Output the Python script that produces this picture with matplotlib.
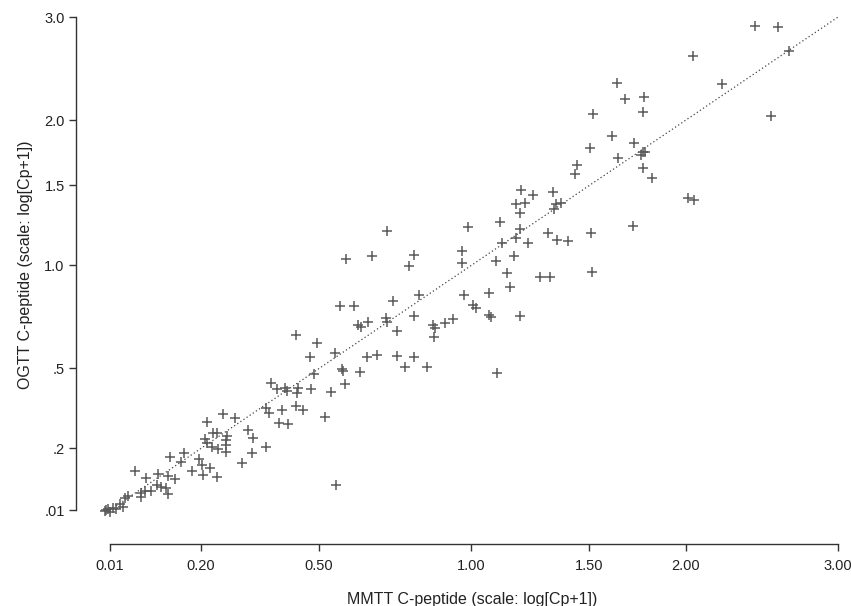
import numpy as np
import matplotlib.pyplot as plt

plt.rcParams['font.family'] = ['Liberation Sans', 'DejaVu Sans']

# both tests on the plotted scale: log(Cp+1)
mmtt = [0.002, 0.010, 0.000, 0.016, 0.029, 0.035, 0.038, 0.044, 0.069, 0.069,
        0.076, 0.088, 0.099, 0.106, 0.116, 0.120, 0.057, 0.078, 0.101, 0.120,
        0.133, 0.123, 0.006, 0.021, 0.150, 0.144, 0.165, 0.178, 0.184, 0.186,
        0.199, 0.212, 0.190, 0.193, 0.203, 0.214, 0.205, 0.212, 0.229, 0.229,
        0.229, 0.193, 0.224, 0.246, 0.231, 0.280, 0.271, 0.305, 0.278, 0.260,
        0.305, 0.311, 0.314, 0.326, 0.341, 0.345, 0.335, 0.329, 0.346, 0.362,
        0.365, 0.364, 0.362, 0.375, 0.388, 0.390, 0.396, 0.401, 0.416, 0.428,
        0.435, 0.437, 0.445, 0.449, 0.450, 0.454, 0.456, 0.471, 0.479, 0.485,
        0.483, 0.496, 0.498, 0.505, 0.515, 0.532, 0.534, 0.534, 0.545, 0.553,
        0.553, 0.568, 0.575, 0.585, 0.585, 0.585, 0.594, 0.609, 0.621, 0.624,
        0.622, 0.643, 0.658, 0.675, 0.675, 0.679, 0.687, 0.696, 0.702, 0.726,
        0.726, 0.730, 0.740, 0.742, 0.747, 0.751, 0.760, 0.766, 0.774, 0.778,
        0.778, 0.785, 0.785, 0.785, 0.787, 0.795, 0.800, 0.810, 0.823, 0.838,
        0.842, 0.847, 0.853, 0.863, 0.849, 0.855, 0.876, 0.889, 0.893, 0.917,
        0.919, 0.921, 0.923, 0.959, 0.968, 0.970, 0.984, 0.999, 1.001, 1.014,
        1.018, 1.021, 1.018, 1.019, 1.018, 1.035, 1.103, 1.114, 1.112, 1.167,
        1.229, 1.260, 1.273, 1.294]
ogtt = [0.010, 0.004, 0.007, 0.016, 0.027, 0.018, 0.044, 0.049, 0.058, 0.046,
        0.063, 0.063, 0.080, 0.074, 0.071, 0.055, 0.119, 0.099, 0.111, 0.105,
        0.097, 0.158, 0.013, 0.013, 0.169, 0.144, 0.119, 0.152, 0.136, 0.108,
        0.127, 0.102, 0.208, 0.197, 0.186, 0.180, 0.225, 0.225, 0.205, 0.192,
        0.172, 0.256, 0.278, 0.267, 0.217, 0.211, 0.233, 0.186, 0.169, 0.141,
        0.295, 0.281, 0.365, 0.348, 0.351, 0.342, 0.289, 0.253, 0.250, 0.499,
        0.351, 0.337, 0.300, 0.289, 0.437, 0.348, 0.390, 0.476, 0.270, 0.339,
        0.448, 0.080, 0.580, 0.404, 0.398, 0.362, 0.711, 0.580, 0.527, 0.521,
        0.395, 0.437, 0.535, 0.719, 0.443, 0.546, 0.535, 0.789, 0.594, 0.510,
        0.440, 0.409, 0.691, 0.722, 0.552, 0.437, 0.610, 0.409, 0.527, 0.518,
        0.493, 0.532, 0.543, 0.733, 0.700, 0.610, 0.800, 0.582, 0.574, 0.616,
        0.554, 0.549, 0.705, 0.393, 0.814, 0.755, 0.672, 0.633, 0.719, 0.769,
        0.864, 0.839, 0.795, 0.552, 0.903, 0.867, 0.755, 0.889, 0.661, 0.783,
        0.661, 0.898, 0.864, 0.867, 0.850, 0.764, 0.761, 0.948, 0.973, 1.021,
        0.783, 0.674, 1.116, 1.054, 1.202, 0.993, 1.157, 0.803, 1.035, 1.001,
        1.009, 1.009, 0.965, 1.163, 1.121, 0.937, 0.881, 0.876, 1.278, 1.199,
        1.361, 1.110, 1.358, 1.291]

tick_vals = [0.01, 0.2, 0.5, 1.0, 1.5, 2.0, 3.0]
xtick_labels = ['0.01', '0.20', '0.50', '1.00', '1.50', '2.00', '3.00']
ytick_labels = ['.01', '.2', '.5', '1.0', '1.5', '2.0', '3.0']
tick_pos = np.log1p(tick_vals)

fig = plt.figure(figsize=(8.51, 6.06), dpi=100)
ax = fig.add_axes([0.1168, 0.1465, 0.8765, 0.8335])

# line of identity
ax.plot(tick_pos[[0, -1]], tick_pos[[0, -1]], ls=(0, (1, 2)), color='#444444', lw=0.9)
ax.plot(mmtt, ogtt, '+', color='#5a5a5a', ms=7, mew=1.1)

ax.set_xlim(-0.01, 1.40)
ax.set_ylim(-0.01, 1.40)

for s in ['top', 'right']:
    ax.spines[s].set_visible(False)
ax.spines['left'].set_position(('outward', 17))
ax.spines['bottom'].set_position(('outward', 19))
ax.spines['left'].set_bounds(tick_pos[0], tick_pos[-1])
ax.spines['bottom'].set_bounds(tick_pos[0], tick_pos[-1])
for s in ['left', 'bottom']:
    ax.spines[s].set_color('#333333')
    ax.spines[s].set_linewidth(1.0)

ax.set_xticks(tick_pos, xtick_labels)
ax.set_yticks(tick_pos, ytick_labels)
ax.tick_params(length=5, width=1.0, color='#333333', labelsize=10.5,
               labelcolor='#222222', pad=3)
ax.tick_params(axis='x', pad=6)

ax.set_xlabel('MMTT C-peptide (scale: log[Cp+1])', fontsize=11.5, color='#222222', labelpad=14)
ax.set_ylabel('OGTT C-peptide (scale: log[Cp+1])', fontsize=11.5, color='#222222', labelpad=8)

fig.savefig('out.png', dpi=100)
